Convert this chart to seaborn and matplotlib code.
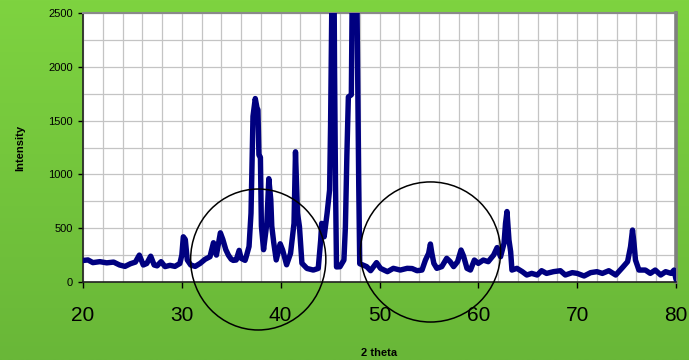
import numpy as np
import pandas as pd
import matplotlib
matplotlib.use("Agg")
import matplotlib.pyplot as plt
from matplotlib.patches import Ellipse
from matplotlib.ticker import MultipleLocator
import seaborn as sns

# Diffraction scan: 2-theta (degrees) and measured intensity (counts)
two_theta = [
    20.0, 20.5, 21.0, 21.7, 22.4, 23.1, 23.7, 24.25, 24.8, 25.3,
    25.7, 26.1, 26.45, 26.85, 27.2, 27.5, 27.9, 28.3, 28.8, 29.3,
    29.8, 30.0, 30.15, 30.35, 30.55, 30.9, 31.35, 31.85, 32.35, 32.85,
    33.2, 33.5, 33.9, 34.15, 34.45, 34.72, 35.0, 35.2, 35.5, 35.8,
    36.0, 36.4, 36.5, 36.8, 37.0, 37.2, 37.43, 37.6, 37.7, 37.8,
    37.95, 38.05, 38.27, 38.6, 38.8, 39.0, 39.1, 39.3, 39.55, 39.95,
    40.2, 40.6, 41.0, 41.35, 41.5, 41.7, 41.9, 42.15, 42.66, 43.3,
    43.8, 44.05, 44.15, 44.4, 44.7, 44.95, 45.05, 45.2, 45.4, 45.45,
    45.55, 45.65, 46.0, 46.4, 46.55, 46.7, 46.85, 47.15, 47.25, 47.7,
    47.8, 47.9, 48.0, 48.7, 49.1, 49.7, 50.1, 50.8, 51.4, 52.1,
    52.8, 53.3, 53.8, 54.3, 54.65, 54.97, 55.15, 55.3, 55.5, 55.8,
    56.3, 56.8, 57.15, 57.5, 57.9, 58.25, 58.5, 58.85, 59.2, 59.6,
    60.0, 60.5, 61.0, 61.55, 61.9, 62.25, 62.6, 62.75, 62.9, 63.1,
    63.27, 63.4, 63.9, 64.45, 64.9, 65.4, 65.96, 66.4, 66.9, 67.6,
    68.3, 68.8, 69.5, 70.0, 70.7, 71.36, 72.0, 72.55, 73.2, 73.9,
    74.6, 75.1, 75.4, 75.6, 75.75, 75.9, 76.25, 76.9, 77.4, 77.9,
    78.45, 78.95, 79.5, 79.8, 80.0,
]
intensity = [
    200, 205, 180, 189, 178, 185, 158, 145, 170, 185,
    250, 158, 172, 240, 158, 150, 189, 143, 155, 145,
    172, 250, 420, 395, 205, 158, 145, 173, 211, 235,
    365, 250, 457, 395, 300, 248, 211, 201, 204, 294,
    220, 201, 230, 330, 640, 1540, 1705, 1620, 1600, 1180,
    1160, 520, 300, 545, 960, 765, 520, 365, 205, 355,
    297, 160, 266, 545, 1210, 640, 515, 175, 126, 111,
    126, 390, 545, 420, 640, 855, 1460, 2800, 2800, 2000,
    900, 140, 142, 204, 514, 1180, 1720, 1740, 2800, 2800,
    1800, 900, 170, 143, 105, 180, 127, 96, 127, 111,
    127, 125, 105, 111, 204, 266, 353, 266, 173, 127,
    143, 220, 189, 143, 189, 297, 242, 127, 111, 204,
    173, 204, 189, 251, 320, 235, 360, 545, 655, 390,
    282, 111, 127, 96, 65, 80, 65, 105, 80, 96,
    105, 65, 87, 80, 56, 87, 96, 80, 105, 65,
    136, 189, 328, 483, 359, 204, 111, 111, 80, 111,
    65, 96, 80, 111, 25,
]
x_ticks = [20, 30, 40, 50, 60, 70, 80]
y_ticks = [0, 500, 1000, 1500, 2000, 2500]

# Highlighted regions (centre 2θ, centre intensity, half-width, half-height)
regions = [(37.73, 209, 6.84, 655), (55.16, 279, 7.09, 651)]

df = pd.DataFrame({"two_theta": two_theta, "intensity": intensity})

sns.set_style("white")
plt.rcParams["font.family"] = ["Liberation Sans", "DejaVu Sans"]

W, H = 689, 360
fig = plt.figure(figsize=(W / 100, H / 100), dpi=100)

# green gradient backdrop
bg = fig.add_axes([0, 0, 1, 1], zorder=-10)
top = np.array([0x7E, 0xD3, 0x40]) / 255
bot = np.array([0x69, 0xB7, 0x38]) / 255
t = np.linspace(0, 1, 256)[:, None]
grad = (top[None, :] * (1 - t) + bot[None, :] * t)[:, None, :]
bg.imshow(grad, aspect="auto", extent=[0, 1, 0, 1])
bg.set_axis_off()

left, right, ytop, ybot = 83, 676, 13, 282
ax = fig.add_axes([left / W, 1 - ybot / H, (right - left) / W, (ybot - ytop) / H])
ax.set_facecolor("white")

sns.lineplot(data=df, x="two_theta", y="intensity", ax=ax, estimator=None,
             color="#000080", linewidth=3.9, solid_joinstyle="round",
             solid_capstyle="round", zorder=3)

ax.set_xlim(20, 80)
ax.set_ylim(0, 2500)
ax.set_xticks(x_ticks)
ax.set_yticks(y_ticks)
ax.xaxis.set_minor_locator(MultipleLocator(2))
ax.yaxis.set_minor_locator(MultipleLocator(250))
ax.grid(True, which="both", color="#C4C4C4", linewidth=0.9, zorder=0)
ax.set_axisbelow(True)

ax.tick_params(axis="x", which="major", direction="out", length=4, width=1,
               labelsize=15, pad=13, colors="black", bottom=True)
ax.tick_params(axis="x", which="minor", length=0)
ax.tick_params(axis="y", which="major", direction="out", length=3.5, width=1,
               labelsize=8, pad=4, colors="black", left=True)
ax.tick_params(axis="y", which="minor", length=0)

for s in ("left", "bottom"):
    ax.spines[s].set_color("#222222")
    ax.spines[s].set_linewidth(1.2)
ax.spines["top"].set_color("#8A8A8A")
ax.spines["top"].set_linewidth(1.5)
ax.spines["right"].set_color("#808080")
ax.spines["right"].set_linewidth(2.6)

ax.set_xlabel("2 theta", fontsize=8, fontweight="bold", labelpad=17, color="black")
ax.set_ylabel("Intensity", fontsize=8, fontweight="bold", labelpad=16, color="black")

for cx, cy, hw, hh in regions:
    ax.add_patch(Ellipse((cx, cy), 2 * hw, 2 * hh, fill=False, edgecolor="black",
                         linewidth=1.1, clip_on=False, zorder=6))

fig.savefig("out.png", dpi=100)
